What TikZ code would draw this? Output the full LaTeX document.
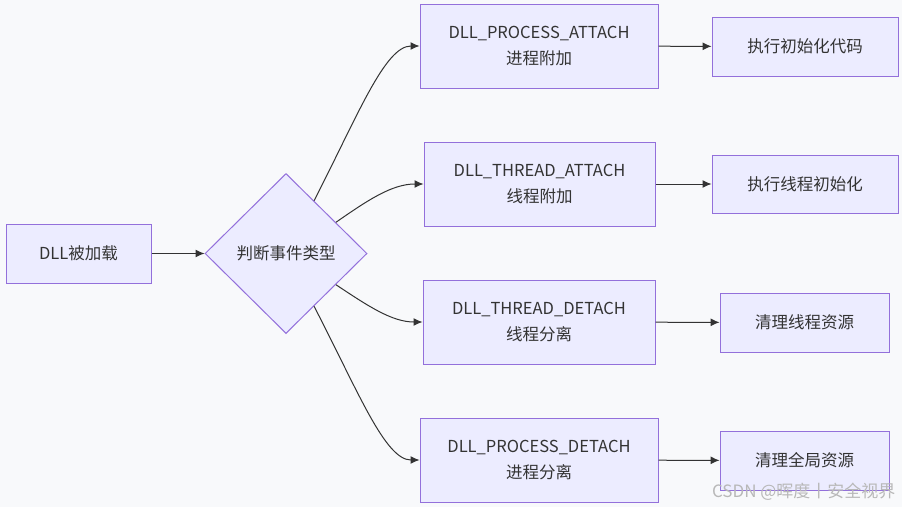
\documentclass[tikz,border=0pt]{standalone}
\usepackage{fontspec}
\setmainfont{Noto Sans CJK SC}
\usetikzlibrary{shapes.geometric,arrows.meta}

\definecolor{bgcol}{HTML}{F8F9FB}
\definecolor{boxfill}{HTML}{ECECFF}
\definecolor{boxline}{HTML}{9370DB}
\definecolor{arrowcol}{HTML}{333333}

\tikzset{
  stepbox/.style={draw=boxline,fill=boxfill,line width=1pt,inner sep=0pt,align=center,
    font=\fontsize{16.5}{26}\selectfont,text=arrowcol},
  judgebox/.style={shape=diamond,draw=boxline,fill=boxfill,line width=1pt,inner sep=0pt,
    minimum width=162pt,minimum height=160pt,font=\fontsize{16.5}{20}\selectfont,text=arrowcol},
  flow/.style={draw=arrowcol,line width=1pt,-{Latex[length=9pt,width=8pt]}},
}

\begin{document}
\begin{tikzpicture}[x=1pt,y=-1pt]
\fill[bgcol] (0,0) rectangle (902,507);
\useasboundingbox (0,0) rectangle (902,507);

% left part
\node[stepbox,minimum width=145pt,minimum height=59pt] (load) at (78.5,253.5) {DLL被加载};
\node[judgebox] (judge) at (286,253.5) {判断事件类型};

% middle column
\node[stepbox,minimum width=238pt,minimum height=84pt] (pattach) at (539,46) {DLL\_PROCESS\_ATTACH\\进程附加};
\node[stepbox,minimum width=231pt,minimum height=84pt] (tattach) at (539.5,184) {DLL\_THREAD\_ATTACH\\线程附加};
\node[stepbox,minimum width=232pt,minimum height=84pt] (tdetach) at (539,322) {DLL\_THREAD\_DETACH\\线程分离};
\node[stepbox,minimum width=238pt,minimum height=84pt] (pdetach) at (539,460) {DLL\_PROCESS\_DETACH\\进程分离};

% right column
\node[stepbox,minimum width=186pt,minimum height=59pt] (initcode) at (805,46.5) {执行初始化代码};
\node[stepbox,minimum width=186pt,minimum height=58pt] (initthread) at (805,184) {执行线程初始化};
\node[stepbox,minimum width=169pt,minimum height=59pt] (cleanthread) at (804.5,322.5) {清理线程资源};
\node[stepbox,minimum width=169pt,minimum height=59pt] (cleanall) at (804.5,460.5) {清理全局资源};

% connectors
\draw[flow] (load) -- (judge);
\draw[flow] (judge.62) .. controls (358,115) and (385,46) .. (pattach.west);
\draw[flow] (judge.32) .. controls (368,200) and (392,184) .. (tattach.west);
\draw[flow] (judge.-32) .. controls (368,306) and (392,322) .. (tdetach.west);
\draw[flow] (judge.-62) .. controls (358,391) and (385,460) .. (pdetach.west);
\draw[flow] (pattach) -- (initcode);
\draw[flow] (tattach) -- (initthread);
\draw[flow] (tdetach) -- (cleanthread);
\draw[flow] (pdetach) -- (cleanall);

\node[anchor=east,text=black!28,font=\fontsize{17}{18}\selectfont] (mark) at (899,492) {CSDN @晖度丨安全视界};
\end{tikzpicture}
\end{document}
